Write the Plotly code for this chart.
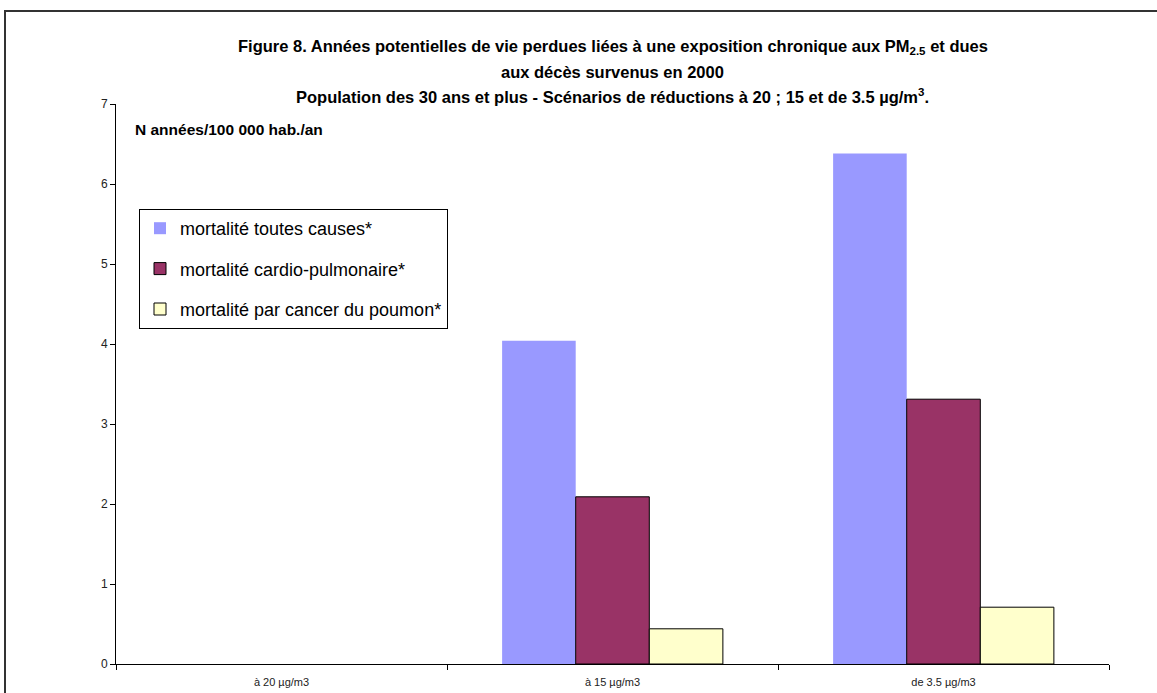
import plotly.graph_objects as go

categories = ["à 20 µg/m3", "à 15 µg/m3", "de 3.5 µg/m3"]
series_names = ["mortalité toutes causes*", "mortalité cardio-pulmonaire*", "mortalité par cancer du poumon*"]
toutes_causes = [None, 4.04, 6.38]
cardio_pulm = [None, 2.09, 3.31]
cancer_poumon = [None, 0.44, 0.71]
y_ticks = [0, 1, 2, 3, 4, 5, 6, 7]

colors = ["#9999FF", "#993366", "#FFFFCC"]
line_widths = [0, 1, 1]
values = [toutes_causes, cardio_pulm, cancer_poumon]

W, H = 1157, 693
ml, mr, mt, mb = 116, 48, 104, 29
pw, ph = W - ml - mr, H - mt - mb

def px(x):
    return (x - ml) / pw

def py(y):
    return (H - mb - y) / ph

fig = go.Figure()
for i, (name, vals) in enumerate(zip(series_names, values)):
    fig.add_trace(go.Bar(
        x=categories, y=vals, name=name,
        marker=dict(color=colors[i], line=dict(color="black", width=line_widths[i])),
        legendgroup=f"g{i}",
    ))

fig.update_layout(
    width=W, height=H,
    margin=dict(l=ml, r=mr, t=mt, b=mb, autoexpand=False),
    paper_bgcolor="white", plot_bgcolor="white",
    font=dict(family="Arial, Liberation Sans, sans-serif", color="black"),
    barmode="group", bargap=0.333, bargroupgap=0,
    showlegend=True,
    legend=dict(
        x=px(139), y=py(209), xanchor="left", yanchor="top",
        bordercolor="black", borderwidth=1, bgcolor="white",
        font=dict(size=18, family="Arial, Liberation Sans, sans-serif", color="black"),
        traceorder="grouped", tracegroupgap=14,
        itemwidth=30,
    ),
    xaxis=dict(
        showline=True, linecolor="black", linewidth=1,
        ticks="outside", ticklen=5, tickcolor="black", tickson="boundaries",
        tickfont=dict(size=11, color="#222"), ticklabelstandoff=8,
        showgrid=False, zeroline=False, automargin=False,
    ),
    yaxis=dict(
        range=[0, 7], tickvals=y_ticks,
        showline=True, linecolor="black", linewidth=1,
        ticks="outside", ticklen=5, tickcolor="black",
        tickfont=dict(size=12, color="#222"),
        showgrid=False, zeroline=False, automargin=False,
    ),
)

title_font = dict(family="Arial, Liberation Sans, sans-serif", size=16.5, color="black")
title_lines = [
    ("<b>Figure 8. Années potentielles de vie perdues liées à une exposition chronique aux PM<sub>2.5</sub> et dues</b>", 47),
    ("<b>aux décès survenus en 2000</b>", 72),
    ("<b>Population des 30 ans et plus - Scénarios de réductions à 20 ; 15 et de 3.5 µg/m<sup>3</sup>.</b>", 96),
]
for txt, yy in title_lines:
    fig.add_annotation(text=txt, xref="paper", yref="paper", x=0.5, y=py(yy),
                       xanchor="center", yanchor="middle", showarrow=False, font=title_font)

fig.add_annotation(text="<b>N années/100 000 hab./an</b>", xref="paper", yref="paper",
                   x=px(133), y=py(130), xanchor="left", yanchor="middle",
                   showarrow=False, font=dict(family="Arial, Liberation Sans, sans-serif", size=15.5, color="black"))

# outer frame lines
fig.add_shape(type="line", xref="paper", yref="paper", x0=px(4), x1=px(W), y0=py(11), y1=py(11),
              line=dict(color="#333", width=2))
fig.add_shape(type="line", xref="paper", yref="paper", x0=px(5), x1=px(5), y0=py(11), y1=py(H),
              line=dict(color="#333", width=2))

fig.write_html("out.html")
